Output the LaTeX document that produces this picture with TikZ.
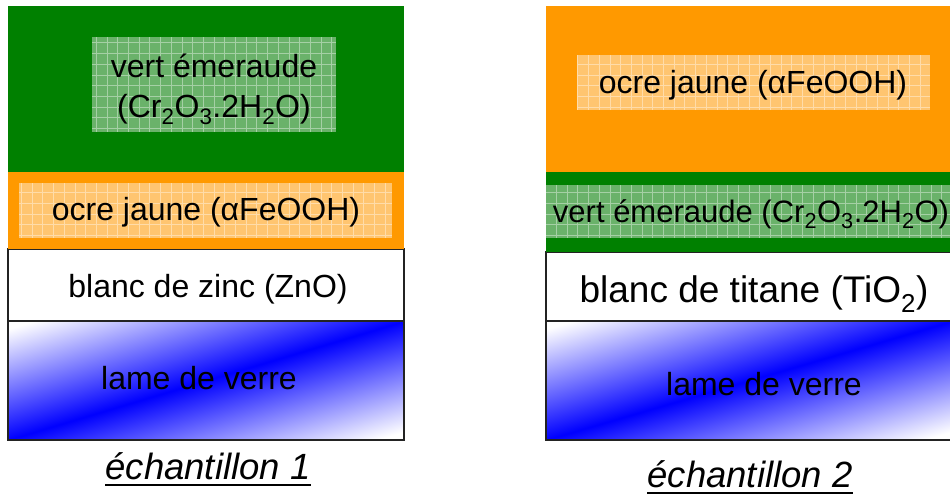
\documentclass[tikz,border=0pt]{standalone}
\usepackage{fontspec}
\setmainfont{Liberation Sans}
\definecolor{emerald}{RGB}{0,128,0}
\definecolor{ochre}{RGB}{255,153,0}
\definecolor{emeraldpale}{RGB}{106,178,106}
\definecolor{ochrepale}{RGB}{255,197,112}
\definecolor{rimgray}{RGB}{35,35,35}
\usetikzlibrary{calc}
\pgfdeclareverticalshading{glass}{100bp}{color(0bp)=(white); color(21bp)=(white); color(50bp)=(blue); color(79bp)=(white); color(100bp)=(white)}

\begin{document}
\begin{tikzpicture}[x=1pt,y=-1pt,
    layertext/.style={font=\fontsize{32}{40}\selectfont,inner sep=0pt,align=center},
    bigtext/.style={font=\fontsize{37}{42}\selectfont,inner sep=0pt},
    legend/.style={font=\fontsize{36.5}{42}\selectfont\itshape,inner sep=0pt,anchor=base},
    weave/.style={white,opacity=0.4,line width=0.7pt,step=10.7pt},
    rim/.style={draw=rimgray,line width=1.4pt},
    verre/.style={rim,shading=glass,shading angle=#1}]
  \clip (0,0) rectangle (950,497);
  % echantillon 1
  \path[verre=16.7] (8,321) rectangle (404,440);
  \path[rim,fill=white] (8,249) rectangle (404,321);
  \fill[ochre] (8,172) rectangle (404,249);
  \fill[emerald] (8,6) rectangle (404,172);
  \fill[emeraldpale] (92,37) rectangle (336,132);
  \draw[weave] (92,37) grid (336,132);
  \fill[ochrepale] (19,183) rectangle (392,238);
  \draw[weave] (19,183) grid (392,238);
  \node[layertext] (vert1) at (214,89) {vert émeraude\\(Cr\textsubscript{2}O\textsubscript{3}.2H\textsubscript{2}O)};
  \node[layertext] (ocre1) at (206,212) {ocre jaune (αFeOOH)};
  \node[layertext] (zinc) at (208,289) {blanc de zinc (ZnO)};
  \node[layertext] (verre1) at (199,378) {lame de verre};
  \node[legend] (ech1) at (208,479) {échantillon 1};
  \draw[line width=2.4pt] ([yshift=-6pt]ech1.base west) -- ([yshift=-6pt]ech1.base east);
  % echantillon 2
  \path[verre=16.3] (546,321) rectangle (952,440);
  \path[rim,fill=white] (546,252) rectangle (952,321);
  \fill[emerald] (546,172) rectangle (952,252);
  \fill[ochre] (546,6) rectangle (952,172);
  \fill[ochrepale] (577,55) rectangle (930,110);
  \draw[weave] (577,55) grid (930,110);
  \fill[emeraldpale] (546,185) rectangle (952,238);
  \draw[weave] (546,185) grid (952,238);
  \node[layertext] (ocre2) at (753,85) {ocre jaune (αFeOOH)};
  \node[layertext,font=\fontsize{31}{36}\selectfont] (vert2) at (751,214) {vert émeraude (Cr\textsubscript{2}O\textsubscript{3}.2H\textsubscript{2}O)};
  \node[bigtext] (titane) at (754,294) {blanc de titane (TiO\textsubscript{2})};
  \node[layertext] (verre2) at (764,384) {lame de verre};
  \node[legend] (ech2) at (750,487) {échantillon 2};
  \draw[line width=2.4pt] ([yshift=-6pt]ech2.base west) -- ([yshift=-6pt]ech2.base east);
\end{tikzpicture}
\end{document}
